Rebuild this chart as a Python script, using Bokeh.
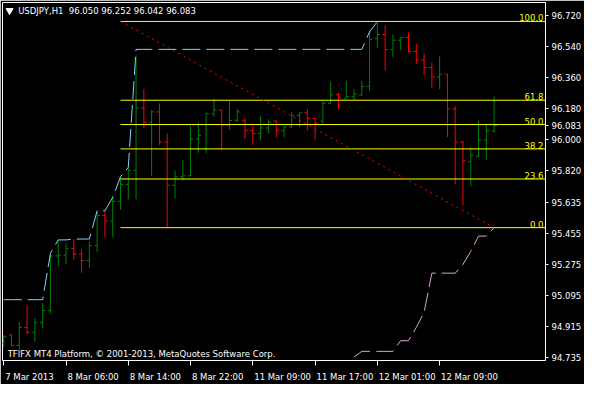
from bokeh.plotting import figure
from bokeh.models import Range1d, FixedTicker, PrintfTickFormatter, ColumnDataSource, Label
from bokeh.embed import file_html
from bokeh.resources import INLINE
from bokeh.core.properties import value

# ---- data (USDJPY H1, bar index 0 = 7 Mar 2013 22:00) ----
opens = [94.818, 94.867, 94.807, 94.911, 94.883, 94.938, 95.009, 95.326, 95.331, 95.370,
         95.337, 95.299, 95.386, 95.561, 95.528, 95.643, 95.741, 95.823, 96.184, 96.102,
         96.162, 95.987, 95.736, 95.785, 95.791, 96.004, 95.949, 96.151, 96.173, 96.086,
         96.113, 96.113, 96.053, 96.037, 96.069, 96.108, 96.053, 96.075, 96.141, 96.157,
         96.124, 96.108, 96.212, 96.261, 96.239, 96.250, 96.261, 96.310, 96.589, 96.611,
         96.523, 96.578, 96.594, 96.512, 96.463, 96.419, 96.365, 96.381, 96.179, 95.987,
         95.873, 95.905, 95.998, 96.050]
highs = [94.867, 94.872, 94.943, 95.042, 94.965, 95.053, 95.331, 95.413, 95.397, 95.424,
         95.364, 95.408, 95.588, 95.588, 95.676, 95.785, 95.840, 96.490, 96.294, 96.173,
         96.212, 96.037, 95.823, 95.884, 96.080, 96.102, 96.157, 96.239, 96.173, 96.223,
         96.179, 96.124, 96.080, 96.135, 96.119, 96.113, 96.080, 96.162, 96.157, 96.179,
         96.124, 96.223, 96.337, 96.272, 96.343, 96.294, 96.343, 96.633, 96.687, 96.665,
         96.611, 96.594, 96.622, 96.556, 96.501, 96.447, 96.485, 96.381, 96.195, 95.993,
         95.955, 96.113, 96.091, 96.252]
lows = [94.796, 94.801, 94.785, 94.872, 94.828, 94.905, 94.993, 95.266, 95.277, 95.304,
        95.228, 95.255, 95.348, 95.435, 95.435, 95.594, 95.654, 95.654, 96.069, 95.791,
        95.971, 95.490, 95.659, 95.763, 95.791, 95.922, 95.922, 96.135, 95.944, 96.059,
        96.102, 96.004, 95.971, 95.998, 96.037, 96.015, 96.015, 96.069, 96.075, 96.053,
        95.998, 96.086, 96.206, 96.179, 96.239, 96.228, 96.255, 96.283, 96.534, 96.403,
        96.480, 96.523, 96.507, 96.441, 96.376, 96.299, 96.294, 96.015, 95.741, 95.621,
        95.731, 95.900, 95.884, 96.042]
closes = [94.856, 94.807, 94.911, 94.883, 94.938, 95.009, 95.326, 95.331, 95.370, 95.337,
          95.299, 95.386, 95.561, 95.528, 95.643, 95.741, 95.823, 96.184, 96.102, 96.162,
          95.987, 95.736, 95.785, 95.791, 96.004, 96.026, 96.151, 96.173, 96.086, 96.113,
          96.162, 96.053, 96.037, 96.069, 96.102, 96.053, 96.075, 96.141, 96.157, 96.124,
          96.097, 96.212, 96.261, 96.244, 96.250, 96.266, 96.310, 96.583, 96.611, 96.523,
          96.578, 96.594, 96.512, 96.463, 96.419, 96.365, 96.381, 96.179, 95.987, 95.878,
          95.911, 95.998, 96.053, 96.083]

# upper channel (light blue), bars 0..48
upper_idx = list(range(0, 49))
upper_vals = [95.072, 95.072, 95.072, 95.072, 95.072, 95.072, 95.342, 95.419, 95.419, 95.424,
              95.424, 95.424, 95.588, 95.588, 95.665, 95.785, 95.840, 96.525, 96.525, 96.525,
              96.525, 96.525, 96.525, 96.525, 96.525, 96.525, 96.525, 96.525, 96.525, 96.525,
              96.525, 96.525, 96.525, 96.525, 96.525, 96.525, 96.525, 96.525, 96.525, 96.525,
              96.525, 96.525, 96.525, 96.525, 96.525, 96.525, 96.525, 96.627, 96.686]
# lower channel (plum), bars 45..63
lower_idx = list(range(45, 64))
lower_vals = [94.739, 94.772, 94.772, 94.772, 94.772, 94.772, 94.834, 94.834, 94.911, 94.998,
              95.226, 95.226, 95.226, 95.226, 95.277, 95.353, 95.441, 95.441, 95.490]

# Fibonacci retracement
fib_high = 96.687
fib_low = 95.490
fib_start = 15
fib_pcts = [100.0, 61.8, 50.0, 38.2, 23.6, 0.0]

# trend line
trend_idx = [15, 63]
trend_vals = [96.687, 95.490]

# axes
last_price = 96.083
y_ticks = [96.720, 96.540, 96.360, 96.180, 96.083, 96.000, 95.820, 95.635, 95.455,
           95.275, 95.095, 94.915, 94.735]
x_ticks = [0, 8, 16, 24, 32, 40, 48, 56]
x_labels = ["7 Mar 2013", "8 Mar 06:00", "8 Mar 14:00", "8 Mar 22:00",
            "11 Mar 09:00", "11 Mar 17:00", "12 Mar 01:00", "12 Mar 09:00"]
# half label widths (in bars) so that each label starts just right of its tick
x_label_shift = [3.3, 3.48, 3.48, 3.48, 3.83, 3.83, 3.83, 3.83]

title_text = "USDJPY,H1\u00a0 96.050 96.252 96.042 96.083"
copyright_text = "TFIFX MT4 Platform, \u00a9 2001-2013, MetaQuotes Software Corp."

x_start, x_end = -0.16, 69.6
y_start, y_end = 94.719, 96.797

FONT = "DejaVu Sans"
FS = "8.5px"

p = figure(width=584, height=384, output_backend="svg", toolbar_location=None,
           x_range=Range1d(x_start, x_end), y_range=Range1d(y_start, y_end),
           x_axis_location="below", y_axis_location="right",
           background_fill_color="black", border_fill_color="black",
           min_border_left=2, min_border_top=2, min_border_right=38, min_border_bottom=16)
p.outline_line_color = "white"
p.outline_line_width = 1
p.grid.visible = False

# axes styling
label_pos = [t + s for t, s in zip(x_ticks, x_label_shift)]
p.xaxis.ticker = FixedTicker(ticks=label_pos, minor_ticks=x_ticks)
p.xaxis.major_label_overrides = {lp: s for lp, s in zip(label_pos, x_labels)}
p.xaxis.major_tick_line_color = None
p.xaxis.minor_tick_line_color = "white"
p.xaxis.minor_tick_in = 0
p.xaxis.minor_tick_out = 5
p.xaxis.major_label_standoff = 5
p.yaxis.ticker = FixedTicker(ticks=y_ticks)
p.yaxis.formatter = PrintfTickFormatter(format="%.3f")
p.yaxis.major_tick_line_color = "white"
p.yaxis.minor_tick_line_color = None
p.yaxis.major_tick_in = 0
p.yaxis.major_tick_out = 3
p.yaxis.major_label_standoff = 3
for ax in (p.xaxis, p.yaxis):
    ax.axis_line_color = "white"
    ax.major_tick_in = 0
    ax.major_label_text_color = "white"
    ax.major_label_text_font = FONT
    ax.major_label_text_font_size = FS

# OHLC bars
idx = list(range(len(opens)))
colors = ["#008000" if c >= o else "#ff0000" for o, c in zip(opens, closes)]
src = ColumnDataSource(dict(x=idx, o=opens, h=highs, l=lows, c=closes,
                            xl=[i - 0.35 for i in idx], xr=[i + 0.35 for i in idx], color=colors))
p.segment("x", "l", "x", "h", source=src, line_color="color", line_width=1)
p.segment("xl", "o", "x", "o", source=src, line_color="color", line_width=1)
p.segment("x", "c", "xr", "c", source=src, line_color="color", line_width=1)

# channels
p.line(upper_idx, upper_vals, line_color="#87cefa", line_width=1, line_dash="18 6")
p.line(lower_idx, lower_vals, line_color="#dda0dd", line_width=1, line_dash="18 6")

# fibonacci
fib_prices = [fib_low + pc / 100.0 * (fib_high - fib_low) for pc in fib_pcts]
fib_src = ColumnDataSource(dict(x0=[fib_start] * len(fib_pcts), x1=[x_end] * len(fib_pcts),
                                y=fib_prices, label=["%.1f" % pc for pc in fib_pcts]))
p.segment("x0", "y", "x1", "y", source=fib_src, line_color="#ffff00", line_width=1)
p.text("x1", "y", text="label", source=fib_src, text_color="#ffff00", text_align="right",
       text_baseline="bottom", x_offset=-2, y_offset=0,
       text_font=value(FONT), text_font_size=FS)

# trend line
p.line(trend_idx, trend_vals, line_color="#ff0000", line_width=1, line_dash="2 4")

# header / footer texts
p.scatter([0.75], [96.750], marker="inverted_triangle", size=7, fill_color="white", line_color="white")
p.add_layout(Label(x=1.85, y=96.750, text=title_text, text_color="white", text_font=FONT,
                   text_font_size=FS, text_baseline="middle", text_align="left"))
p.add_layout(Label(x=0.5, y=94.757, text=copyright_text, text_color="white", text_font=FONT,
                   text_font_size=FS, text_baseline="middle", text_align="left"))

open("out.html", "w").write(file_html(p, INLINE))
